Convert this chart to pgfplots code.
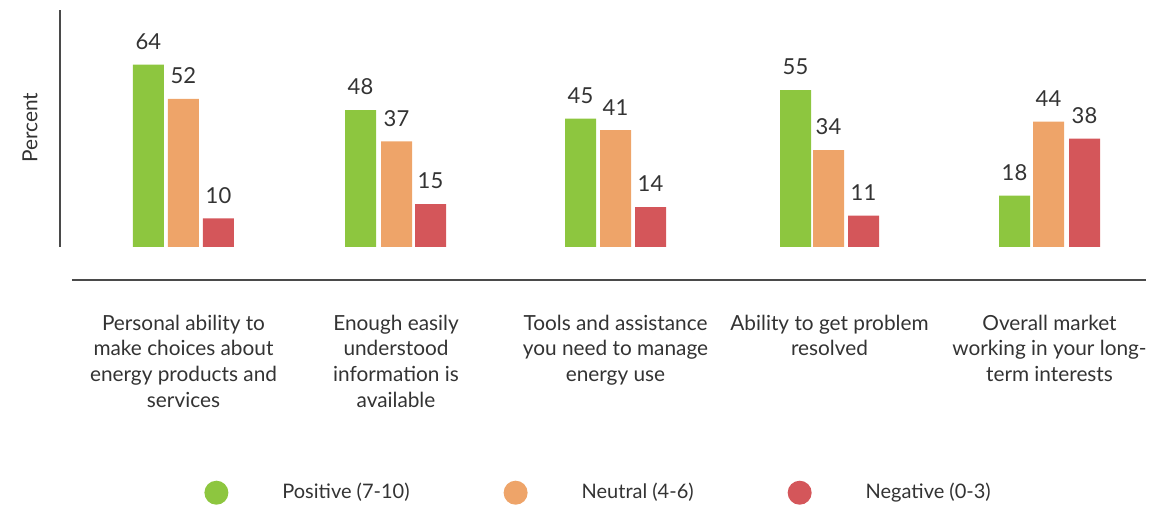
\documentclass[border=0pt]{standalone}
\usepackage{fontspec}
\setmainfont{Lato}
\usepackage{pgfplots}
\pgfplotsset{compat=1.18}
\definecolor{cG}{HTML}{8DC63F}
\definecolor{cO}{HTML}{EEA469}
\definecolor{cR}{HTML}{D4565A}
\definecolor{txt}{HTML}{333333}
\definecolor{ax}{HTML}{4A4A4A}
\begin{document}
\begin{tikzpicture}
\begin{axis}[
  scale only axis, width=543pt, height=118.5pt,
  xmin=60, xmax=1146, ymin=0, ymax=83.2,
  axis lines=left,
  axis line style={-, draw=ax, line width=0.9pt},
  x axis line style={draw=none},
  ytick=\empty,
  xtick={183.5,396,615.5,829.5,1049.5},
  xticklabels={
    {Personal ability to\\make choices about\\energy products and\\services},
    {Enough easily\\understood\\information is\\available},
    {Tools and assistance\\you need to manage\\energy use},
    {Ability to get problem\\resolved},
    {Overall market\\working in your long-\\term interests}},
  major tick length=0pt,
  xticklabel style={font=\fontsize{10.4}{12.85}\selectfont, text=txt, align=center, anchor=north, yshift=-30.5pt},
  ylabel={Percent},
  every axis y label/.style={at={(rel axis cs:-0.0276,0.5018)}, rotate=90, anchor=center, font=\fontsize{10.4}{12}\selectfont, text=txt},
  clip=false,
  /pgf/number format/assume math mode=true,
  nodes near coords,
  nodes near coords style={font=\fontsize{11}{12}\selectfont, text=txt, anchor=south, yshift=4pt},
  legend columns=3,
  legend style={at={(axis cs:204,-86.3)}, anchor=west, draw=none, fill=none, inner sep=0pt,
    font=\fontsize{10}{12}\selectfont, text=txt,
    /tikz/every even column/.append style={column sep=45pt}},
  legend cell align=left,
]
\addplot[ybar, bar width=31, bar shift=0, fill=cG, draw=none,
  legend image code/.code={\fill[cG] (0pt,0pt) circle (6pt); \path[draw=none,fill=none] (-6pt,-6pt) rectangle (31pt,6pt);}]
  coordinates {(148.5,64) (360.5,48) (580.5,45) (795.5,55) (1014.5,18)};
\addlegendentry{Positive (7-10)}
\addplot[ybar, bar width=31, bar shift=0, fill=cO, draw=none,
  legend image code/.code={\fill[cO] (0pt,0pt) circle (6pt); \path[draw=none,fill=none] (-6pt,-6pt) rectangle (31pt,6pt);}]
  coordinates {(183.5,52) (396.5,37) (615.5,41) (828.5,34) (1048.5,44)};
\addlegendentry{Neutral (4-6)}
\addplot[ybar, bar width=31, bar shift=0, fill=cR, draw=none,
  legend image code/.code={\fill[cR] (0pt,0pt) circle (6pt); \path[draw=none,fill=none] (-6pt,-6pt) rectangle (31pt,6pt);}]
  coordinates {(218.5,10) (430.5,15) (650.5,14) (863.5,11) (1084.5,38)};
\addlegendentry{Negative (0-3)}
\draw[ax, line width=0.9pt] (axis cs:72,-11.58) -- (axis cs:1146,-11.58);
\coordinate (tl) at (axis cs:0,86.67);
\coordinate (br) at (axis cs:1157,-91.23);
\end{axis}
\path (tl) rectangle (br);
\end{tikzpicture}
\end{document}
